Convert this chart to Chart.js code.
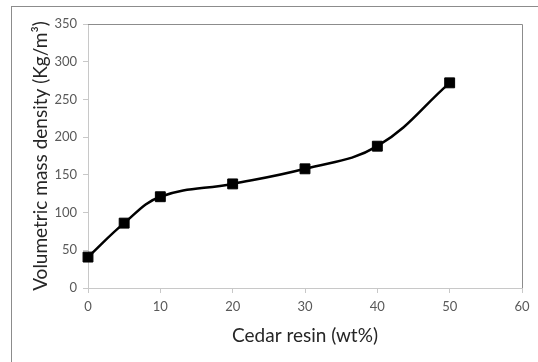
<!DOCTYPE html>
<html>
<head>
<meta charset="utf-8">
<script src="https://cdn.jsdelivr.net/npm/chart.js@4"></script>
<style>
  html, body { margin: 0; padding: 0; background: #fff; }
  #wrap { position: relative; width: 538px; height: 362px; overflow: hidden; }
  #frame { position: absolute; left: 11px; top: 6px; width: 600px; height: 400px; border: 1px solid #8c8c8c; }
  #chart { position: absolute; left: 0; top: 0; }
</style>
</head>
<body>
<div id="wrap">
  <div id="frame"></div>
  <canvas id="chart" width="538" height="362"></canvas>
</div>
<script>
const resin = [0, 5, 10, 20, 30, 40, 50]
const density = [41, 86, 121, 138, 158, 188, 272]
const xTicks = [0, 10, 20, 30, 40, 50, 60]
const yTicks = [0, 50, 100, 150, 200, 250, 300, 350]

Chart.defaults.font.family = "Lato, 'Open Sans', sans-serif"

// gray top/right edge of the plot area
const plotFrame = {
  id: "plotFrame",
  afterDraw(chart) {
    const { ctx, chartArea: a } = chart
    ctx.save()
    ctx.strokeStyle = "#8c8c8c"
    ctx.lineWidth = 1
    ctx.beginPath()
    ctx.moveTo(a.left, a.top + 0.5)
    ctx.lineTo(a.right + 0.5, a.top + 0.5)
    ctx.lineTo(a.right + 0.5, a.bottom)
    ctx.stroke()
    ctx.restore()
  },
}

new Chart(document.getElementById("chart"), {
  type: "line",
  data: {
    datasets: [
      {
        data: resin.map((x, i) => ({ x: x, y: density[i] })),
        borderColor: "#000",
        borderWidth: 2.5,
        tension: 0.4,
        clip: false,
        pointStyle: "rect",
        pointRadius: 7,
        pointBorderWidth: 1,
        pointBackgroundColor: "#000",
        pointBorderColor: "#000",
      },
    ],
  },
  plugins: [plotFrame],
  options: {
    responsive: false,
    animation: false,
    layout: { padding: { left: 0, top: 24, right: 16, bottom: 0 } },
    scales: {
      x: {
        type: "linear",
        min: 0,
        max: 60,
        afterBuildTicks: s => { s.ticks = xTicks.map(v => ({ value: v })) },
        afterFit: s => { s.height = 74 },
        ticks: { color: "#595959", font: { size: 13 }, padding: 6, maxRotation: 0 },
        grid: { drawOnChartArea: false, color: "#c8c8c8", tickLength: 5 },
        border: { color: "#c8c8c8" },
        title: { display: true, text: "Cedar resin (wt%)", color: "#262626", font: { size: 19 }, padding: { top: 0, bottom: 15 } },
      },
      y: {
        min: 0,
        max: 350,
        afterBuildTicks: s => { s.ticks = yTicks.map(v => ({ value: v })) },
        afterFit: s => { s.width = 88 },
        ticks: { color: "#595959", font: { size: 13 }, padding: 6 },
        grid: { drawOnChartArea: false, color: "#c8c8c8", tickLength: 5 },
        border: { color: "#c8c8c8" },
        title: { display: true, text: "Volumetric mass density (Kg/m³)", color: "#262626", font: { size: 19 }, padding: { top: 29, bottom: 0 } },
      },
    },
    plugins: {
      legend: { display: false },
      tooltip: { enabled: false },
    },
  },
})
</script>
</body>
</html>
